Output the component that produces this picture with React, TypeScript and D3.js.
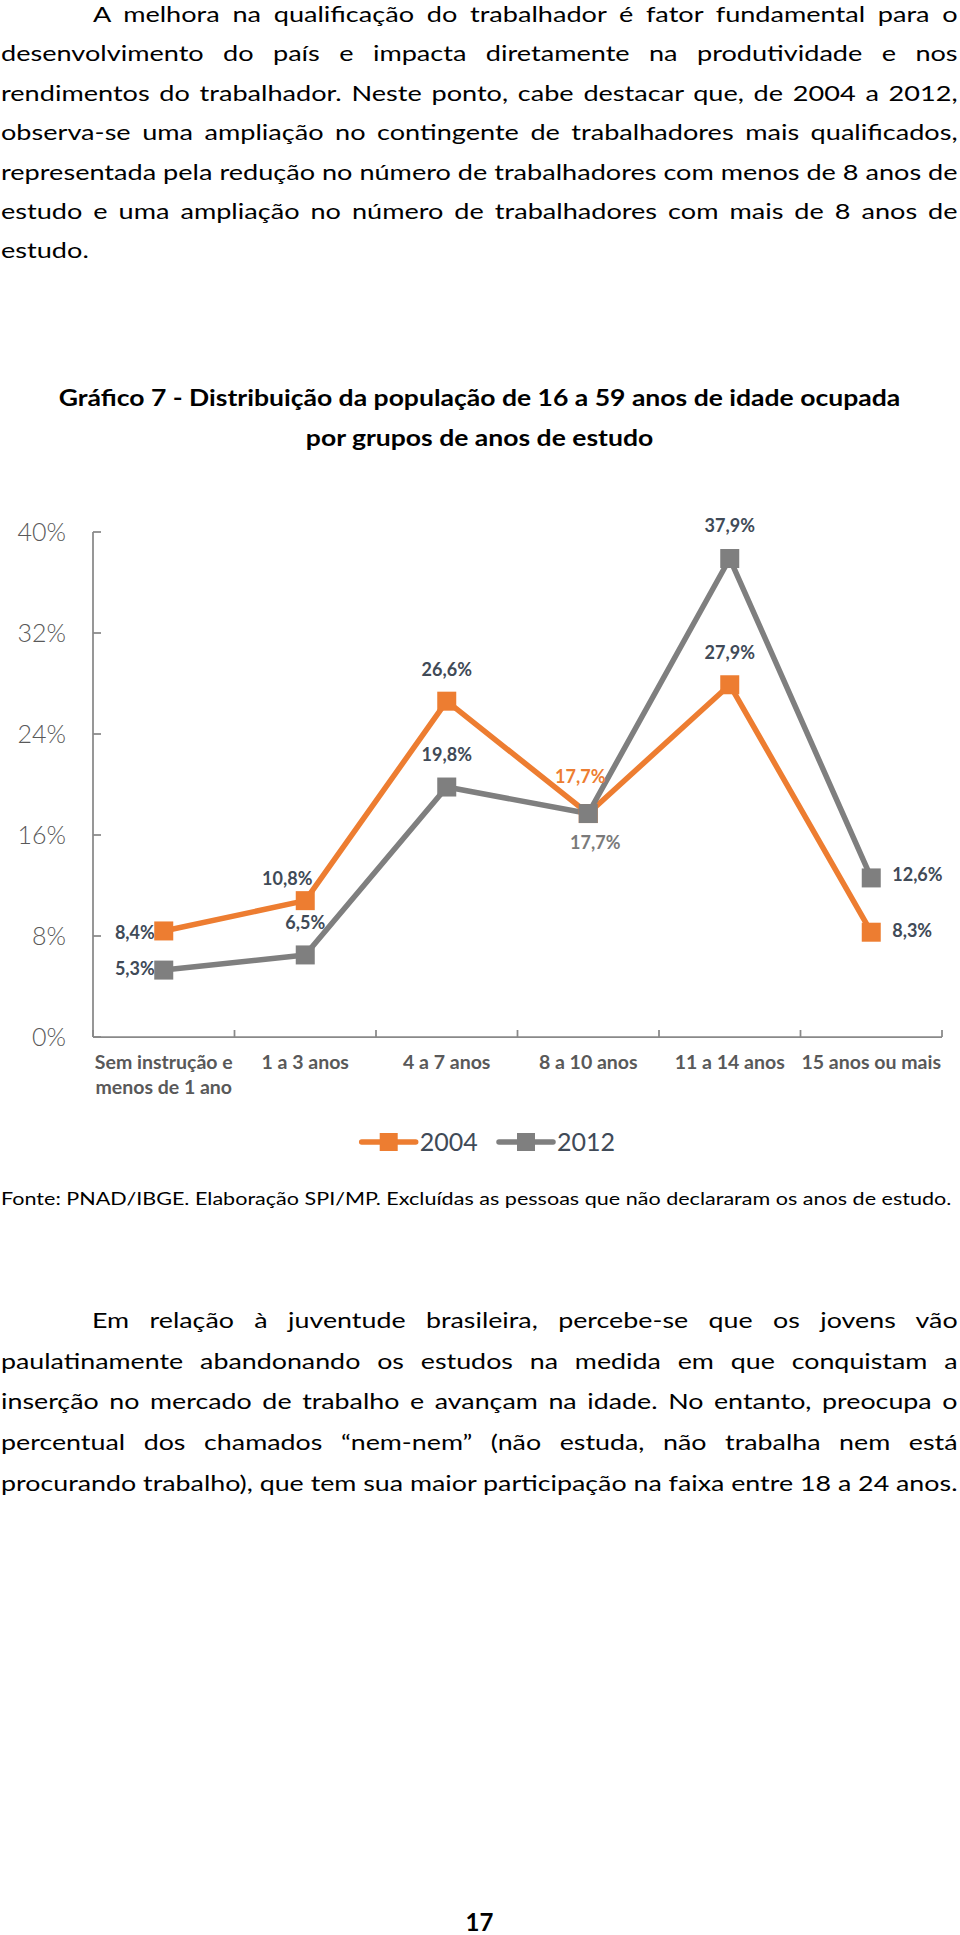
import React, { useEffect, useRef } from "react";
import * as d3 from "d3";

// ---------- data ----------
const categories = [
  ["Sem instrução e", "menos de 1 ano"],
  ["1 a 3 anos"],
  ["4 a 7 anos"],
  ["8 a 10 anos"],
  ["11 a 14 anos"],
  ["15 anos ou mais"],
];
const values2004 = [8.4, 10.8, 26.6, 17.7, 27.9, 8.3];
const values2012 = [5.3, 6.5, 19.8, 17.7, 37.9, 12.6];
const seriesNames = ["2004", "2012"];
const yTicks = [0, 8, 16, 24, 32, 40];

const titleLines = [
  "Gráfico 7 - Distribuição da população de 16 a 59 anos de idade ocupada",
  "por grupos de anos de estudo",
];
const paragraph1 = [
  "A melhora na qualificação do trabalhador é fator fundamental para o",
  "desenvolvimento do país e impacta diretamente na produtividade e nos",
  "rendimentos do trabalhador. Neste ponto, cabe destacar que, de 2004 a 2012,",
  "observa-se uma ampliação no contingente de trabalhadores mais qualificados,",
  "representada pela redução no número de trabalhadores com menos de 8 anos de",
  "estudo e uma ampliação no número de trabalhadores com mais de 8 anos de",
  "estudo.",
];
const paragraph2 = [
  "Em relação à juventude brasileira, percebe-se que os jovens vão",
  "paulatinamente abandonando os estudos na medida em que conquistam a",
  "inserção no mercado de trabalho e avançam na idade. No entanto, preocupa o",
  "percentual dos chamados “nem-nem” (não estuda, não trabalha nem está",
  "procurando trabalho), que tem sua maior participação na faixa entre 18 a 24 anos.",
];
const sourceNote =
  "Fonte: PNAD/IBGE. Elaboração SPI/MP. Excluídas as pessoas que não declararam os anos de estudo.";
const pageNumber = "17";

// ---------- layout / style (not data) ----------
const FONT = "Lato, 'Open Sans', sans-serif";
const ORANGE = "#ED7D31";
const GRAY = "#7F7F7F";
const LABEL_DARK = "#404A57";
const AXIS_TEXT = "#595959";
const AXIS_LINE = "#898989";

const labelPlacement2004 = [
  { anchor: "end", dx: -9, dy: 8 },
  { anchor: "middle", dx: -18, dy: -16 },
  { anchor: "middle", dx: 0, dy: -25 },
  { anchor: "middle", dx: -8, dy: -31 },
  { anchor: "middle", dx: 0, dy: -26 },
  { anchor: "start", dx: 21, dy: 5 },
];
const labelPlacement2012 = [
  { anchor: "end", dx: -9, dy: 5 },
  { anchor: "middle", dx: 0, dy: -26 },
  { anchor: "middle", dx: 0, dy: -26 },
  { anchor: "middle", dx: 7, dy: 35 },
  { anchor: "middle", dx: 0, dy: -27 },
  { anchor: "start", dx: 21, dy: 3 },
];

const fmt = (v: number) => d3.format(".1f")(v).replace(".", ",") + "%";

function drawParagraph(svg: any, lines: string[], o: any) {
  const g = svg
    .append("g")
    .attr("font-family", FONT)
    .attr("font-size", o.fs)
    .attr("fill", "#000");
  const items = lines.map((line, i) => {
    const t = g.append("text").attr("x", 0).attr("y", 0).text(line);
    const w = (t.node() as SVGTextElement).getComputedTextLength();
    const start = o.x0 + (i === 0 ? o.indent : 0);
    return { t, w, start, target: o.x1 - start, spaces: (line.match(/ /g) || []).length };
  });
  const sx = d3.min(items.filter((_, i) => o.justify(i)), (d) => d.target / d.w) as number;
  items.forEach((d, i) => {
    d.t.attr("transform", `translate(${d.start},${o.y0 + i * o.lh}) scale(${sx},1)`);
    if (o.justify(i) && d.spaces > 0) {
      const ws = (d.target / sx - d.w) / d.spaces;
      d.t.style("word-spacing", `${ws}px`);
    }
  });
}

function draw(svg: any) {
  svg.append("rect").attr("width", 960).attr("height", 1935).attr("fill", "#fff");

  // Paragraph 1
  drawParagraph(svg, paragraph1, {
    x0: 1, x1: 958, indent: 92, y0: 22, lh: 39.4, fs: 22,
    justify: (i: number) => i < paragraph1.length - 1,
  });

  // Title
  const tg = svg.append("g").attr("font-family", FONT).attr("font-size", 22)
    .attr("font-weight", 700).attr("fill", "#000").attr("text-anchor", "middle");
  const t0 = tg.append("text").text(titleLines[0]);
  const tsx = 842 / (t0.node() as SVGTextElement).getComputedTextLength();
  titleLines.forEach((line, i) => {
    const t = i === 0 ? t0 : tg.append("text").text(line);
    t.attr("transform", `translate(479.5,${406 + i * 40}) scale(${tsx},1)`);
  });

  // Chart
  const x = d3.scaleBand<number>().domain(d3.range(categories.length)).range([93, 942]);
  const y = d3.scaleLinear().domain([0, 40]).range([1037, 532]);
  const cx = (i: number) => (x(i) as number) + x.bandwidth() / 2;

  const chart = svg.append("g").attr("font-family", FONT);

  // y axis
  chart.append("line").attr("x1", 93).attr("x2", 93).attr("y1", y(40)).attr("y2", y(0))
    .attr("stroke", AXIS_LINE).attr("stroke-width", 1.75);
  yTicks.forEach((v) => {
    chart.append("line").attr("x1", 93).attr("x2", 101).attr("y1", y(v)).attr("y2", y(v))
      .attr("stroke", AXIS_LINE).attr("stroke-width", 1.75);
    chart.append("text").attr("x", 66).attr("y", y(v) + 9).attr("text-anchor", "end")
      .attr("font-size", 25).attr("font-weight", 300).attr("fill", AXIS_TEXT).text(`${v}%`);
  });

  // x axis
  chart.append("line").attr("x1", 93).attr("x2", 942).attr("y1", y(0)).attr("y2", y(0))
    .attr("stroke", AXIS_LINE).attr("stroke-width", 1.75);
  d3.range(categories.length + 1).forEach((i) => {
    const xx = i < categories.length ? (x(i) as number) : 942;
    chart.append("line").attr("x1", xx).attr("x2", xx).attr("y1", y(0)).attr("y2", y(0) - 7)
      .attr("stroke", AXIS_LINE).attr("stroke-width", 1.75);
  });
  categories.forEach((lines, i) => {
    lines.forEach((line, j) => {
      chart.append("text").attr("x", cx(i)).attr("y", 1069 + j * 25).attr("text-anchor", "middle")
        .attr("font-size", 19.5).attr("font-weight", 700).attr("fill", AXIS_TEXT).text(line);
    });
  });

  const series = [
    { name: seriesNames[0], values: values2004, color: ORANGE, place: labelPlacement2004 },
    { name: seriesNames[1], values: values2012, color: GRAY, place: labelPlacement2012 },
  ];
  const line = d3.line<number>().x((_, i) => cx(i)).y((d) => y(d));

  // lines
  series.forEach((s) => {
    chart.append("path").attr("d", line(s.values)).attr("fill", "none").attr("stroke", s.color)
      .attr("stroke-width", 5.5).attr("stroke-linejoin", "round");
  });
  // labels
  series.forEach((s, si) => {
    s.values.forEach((v, i) => {
      const p = s.place[i];
      const special = i === 3;
      chart.append("text").attr("x", cx(i) + p.dx).attr("y", y(v) + p.dy)
        .attr("text-anchor", p.anchor).attr("font-size", 18).attr("font-weight", 700)
        .attr("fill", special ? (si === 0 ? ORANGE : "#7A7A7A") : LABEL_DARK).text(fmt(v));
    });
  });
  // markers
  series.forEach((s) => {
    s.values.forEach((v, i) => {
      chart.append("rect").attr("x", cx(i) - 9.5).attr("y", y(v) - 9.5).attr("width", 19).attr("height", 19)
        .attr("fill", s.color);
    });
  });

  // legend
  const lg = svg.append("g").attr("font-family", FONT);
  const legendX = [361.7, 499];
  series.forEach((s, i) => {
    const lx = legendX[i];
    lg.append("line").attr("x1", lx).attr("x2", lx + 54).attr("y1", 1142).attr("y2", 1142)
      .attr("stroke", s.color).attr("stroke-width", 5.5).attr("stroke-linecap", "round");
    lg.append("rect").attr("x", lx + 27 - 9).attr("y", 1142 - 9).attr("width", 18).attr("height", 18)
      .attr("fill", s.color);
    lg.append("text").attr("x", lx + 58).attr("y", 1151).attr("font-size", 25)
      .attr("fill", LABEL_DARK).text(s.name);
  });

  // source
  const src = svg.append("text").attr("font-family", FONT).attr("font-size", 17).attr("fill", "#000")
    .text(sourceNote);
  const ssx = 951 / (src.node() as SVGTextElement).getComputedTextLength();
  src.attr("transform", `translate(1,1205) scale(${ssx},1)`);

  // Paragraph 2
  drawParagraph(svg, paragraph2, {
    x0: 1, x1: 958, indent: 91, y0: 1328, lh: 40.7, fs: 22,
    justify: () => true,
  });

  // page number
  svg.append("text").attr("x", 479.5).attr("y", 1931).attr("text-anchor", "middle")
    .attr("font-family", FONT).attr("font-size", 24).attr("font-weight", 700).attr("fill", "#000")
    .text(pageNumber);
}

export default function App() {
  const ref = useRef<SVGSVGElement>(null);
  useEffect(() => {
    const svg = d3.select(ref.current);
    svg.selectAll("*").remove();
    draw(svg);
  }, []);
  return (
    <svg
      ref={ref}
      width={960}
      height={1935}
      style={{ position: "absolute", left: 0, top: 0, display: "block" }}
    />
  );
}
